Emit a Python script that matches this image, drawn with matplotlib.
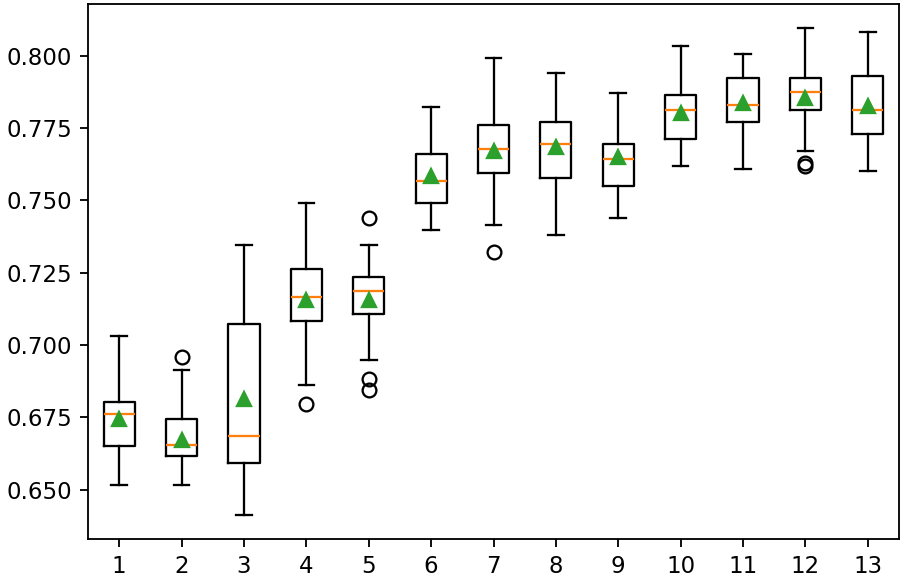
import matplotlib
matplotlib.use("Agg")
import matplotlib.pyplot as plt

LABELS = [str(i) for i in range(1, 14)]
MEDIANS = [0.6763, 0.6653, 0.6686, 0.7167, 0.7185, 0.7567, 0.7677, 0.7695, 0.7644, 0.7813, 0.7829, 0.7874, 0.7813]
MEANS = [0.6744, 0.6673, 0.6814, 0.7156, 0.7156, 0.7583, 0.7669, 0.7683, 0.7651, 0.7801, 0.7836, 0.7853, 0.7826]
Q1 = [0.6650, 0.6618, 0.6592, 0.7082, 0.7108, 0.7491, 0.7594, 0.7576, 0.7551, 0.7710, 0.7769, 0.7813, 0.7728]
Q3 = [0.6804, 0.6744, 0.7074, 0.7262, 0.7236, 0.7659, 0.7760, 0.7771, 0.7695, 0.7863, 0.7923, 0.7923, 0.7929]
WHISLO = [0.6517, 0.6517, 0.6414, 0.6863, 0.6949, 0.7397, 0.7414, 0.7381, 0.7440, 0.7618, 0.7609, 0.7669, 0.7600]
WHISHI = [0.7032, 0.6914, 0.7346, 0.7490, 0.7346, 0.7821, 0.7991, 0.7940, 0.7872, 0.8032, 0.8006, 0.8094, 0.8083]
FLIERS = [[], [0.6958], [], [0.6795], [0.7440, 0.6882, 0.6846], [], [0.7321], [], [], [], [], [0.7628, 0.7618], []]

DPI = 165
fig = plt.figure(figsize=(905 / DPI, 578 / DPI), dpi=DPI)
ax = fig.add_axes([88 / 905, 1 - 539 / 578, (899 - 88) / 905, (539 - 4) / 578])

stats = []
for i, label in enumerate(LABELS):
    stats.append({
        "label": label,
        "med": MEDIANS[i],
        "mean": MEANS[i],
        "q1": Q1[i],
        "q3": Q3[i],
        "whislo": WHISLO[i],
        "whishi": WHISHI[i],
        "fliers": FLIERS[i],
    })

ax.bxp(stats, showmeans=True)

fig.savefig("out.png", dpi=DPI)
